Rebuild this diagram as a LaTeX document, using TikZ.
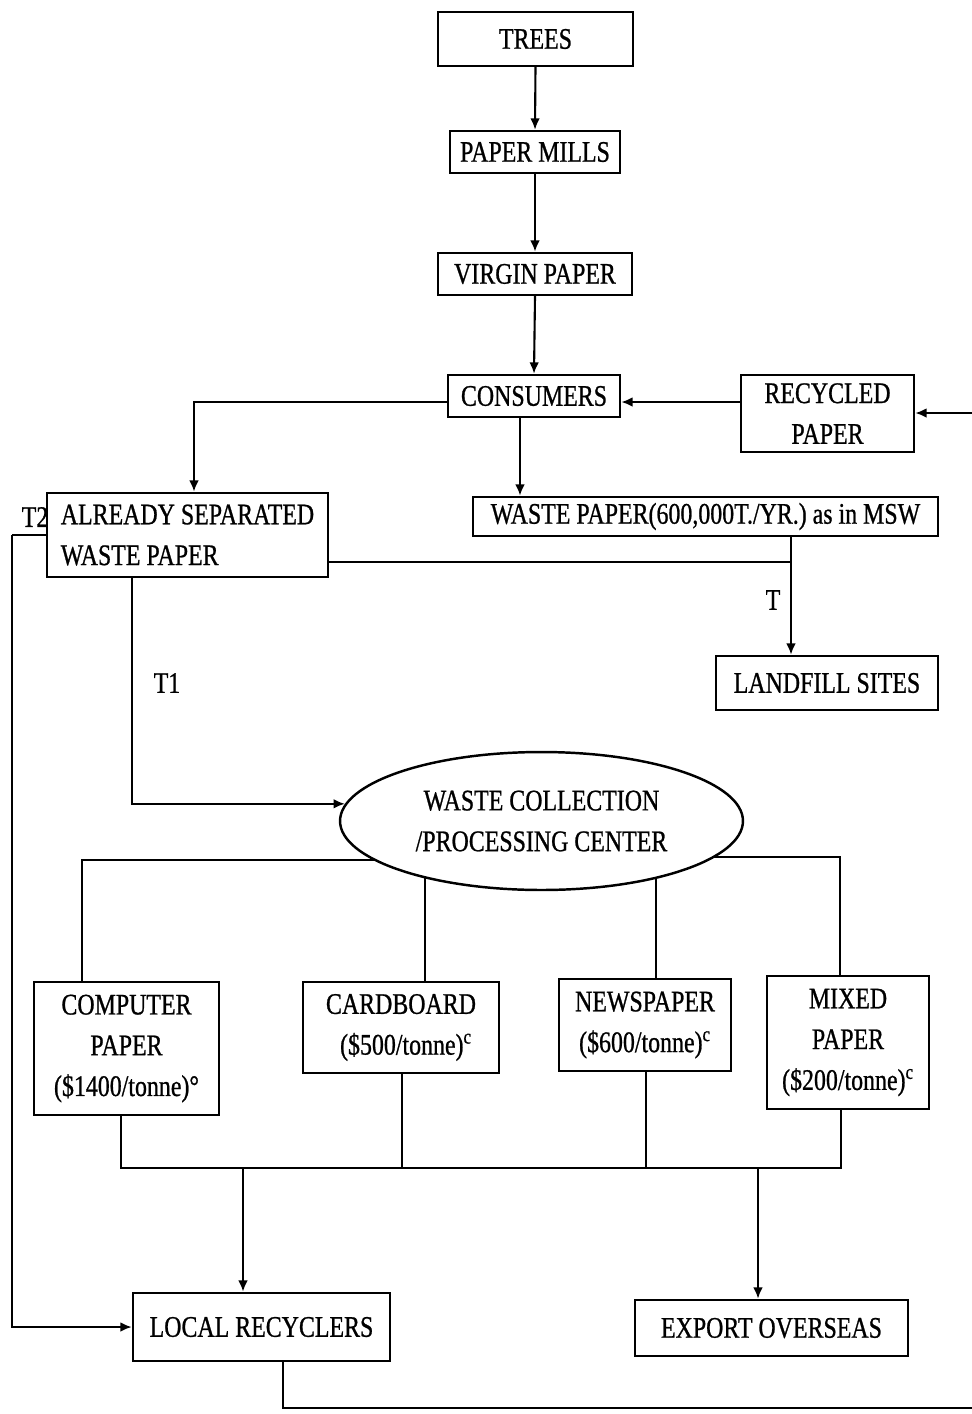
\documentclass[tikz,border=0pt]{standalone}
\usepackage{fontspec}
\setmainfont{Liberation Serif}[FakeStretch=0.8,FakeBold=0.8]
\usetikzlibrary{arrows.meta,shapes.geometric,backgrounds,calc}
\begin{document}
\begin{tikzpicture}[x=0.02cm,y=-0.02cm,
  every node/.style={font=\fontsize{17}{23.2}\selectfont},
  box/.style={draw,line width=1.4pt,inner sep=0pt,align=center},
  conn/.style={line width=1.2pt},
  arr/.style={conn,-{Latex[length=6.5pt,width=5.5pt]}},
  lbl/.style={inner sep=0pt}]
\useasboundingbox (0,0) rectangle (972,1414);
% nodes
\node[box,minimum width=3.9cm,minimum height=1.08cm] (trees) at (535.5,39) {TREES};
\node[box,minimum width=3.4cm,minimum height=0.84cm] (mills) at (535,152) {PAPER MILLS};
\node[box,minimum width=3.88cm,minimum height=0.84cm] (virgin) at (535,274) {VIRGIN PAPER};
\node[box,minimum width=3.44cm,minimum height=0.84cm] (cons) at (534,396) {CONSUMERS};
\node[box,minimum width=3.46cm,minimum height=1.54cm] (rec) at (827.5,413.5) {RECYCLED\\PAPER};
\node[box,minimum width=5.62cm,minimum height=1.68cm,align=left] (asep) at (187.5,535) {ALREADY SEPARATED\\WASTE PAPER};
\node[box,minimum width=9.3cm,minimum height=0.78cm] (waste) at (705.5,516.5) {WASTE PAPER(600,000T./YR.) as in MSW};
\node[box,minimum width=4.44cm,minimum height=1.08cm] (land) at (827,683) {LANDFILL SITES};
\node[box,ellipse,fill=white,minimum width=8.06cm,minimum height=2.76cm] (ell) at (541.5,821) {WASTE COLLECTION\\/PROCESSING CENTER};
\node[box,minimum width=3.7cm,minimum height=2.66cm] (comp) at (126.5,1048.5) {COMPUTER\\PAPER\\(\$1400/tonne)°};
\node[box,minimum width=3.92cm,minimum height=1.82cm] (card) at (401,1027.5) {CARDBOARD\\\,\,(\$500/tonne)\textsuperscript{c}};
\node[box,minimum width=3.44cm,minimum height=1.84cm] (news) at (645,1025) {NEWSPAPER\\(\$600/tonne)\textsuperscript{c}};
\node[box,minimum width=3.24cm,minimum height=2.66cm] (mix) at (848,1042.5) {MIXED\\PAPER\\(\$200/tonne)\textsuperscript{c}};
\node[box,minimum width=5.14cm,minimum height=1.36cm] (local) at (261.5,1327) {LOCAL RECYCLERS};
\node[box,minimum width=5.46cm,minimum height=1.12cm] (export) at (771.5,1328) {EXPORT OVERSEAS};
% labels
\node[lbl] (t2) at (35,517) {T2};
\node[lbl] (t1) at (167,683) {T1};
\node[lbl] (t) at (773,600) {T};
% helper coordinates
\coordinate (y402) at (0,402);
\coordinate (redge) at (972,413);
\coordinate (x194) at (194,0);
\coordinate (x520) at (520,0);
\coordinate (x791) at (791,0);
\coordinate (j) at (791,562);
\coordinate (x132) at (132,0);
\coordinate (lft) at (12,535);
\coordinate (l860) at (0,860);
\coordinate (r857) at (0,857);
\coordinate (x82) at (82,0);
\coordinate (x840) at (840,0);
\coordinate (x425) at (425,0);
\coordinate (x656) at (656,0);
\coordinate (bus) at (0,1168);
\coordinate (x121) at (121,0);
\coordinate (x402) at (402,0);
\coordinate (x646) at (646,0);
\coordinate (x841) at (841,0);
\coordinate (x243) at (243,0);
\coordinate (x758) at (758,0);
\coordinate (x283) at (283,0);
\coordinate (bedge) at (972,1408);
% connectors
\draw[arr] (trees.south) -- (mills.north);
\draw[arr] (mills.south) -- (virgin.north);
\draw[arr] (virgin.south) -- (cons.north);
\draw[arr] (rec.west |- y402) -- (cons.east |- y402);
\draw[arr] (redge) -- (rec.east |- redge);
\draw[arr] (cons.west |- y402) -| (asep.north -| x194);
\draw[arr] (cons.south -| x520) -- (waste.north -| x520);
\draw[arr] (waste.south -| x791) -- (land.north -| x791);
\draw[conn] (asep.east |- j) -- (j);
\draw[arr] (asep.south -| x132) |- (ell.175.6);
\draw[conn] (asep.west) -- (lft);
\draw[arr] (lft) |- (local.west);
\begin{scope}[on background layer]
\draw[conn] (ell.center |- l860) -| (comp.north -| x82);
\draw[conn] (ell.center |- r857) -| (mix.north -| x840);
\draw[conn] (ell.center -| x425) -- (card.north -| x425);
\draw[conn] (ell.center -| x656) -- (news.north -| x656);
\end{scope}
\draw[conn] (comp.south -| x121) -- (x121 |- bus) -- (x841 |- bus) -- (mix.south -| x841);
\draw[conn] (card.south -| x402) -- (x402 |- bus);
\draw[conn] (news.south -| x646) -- (x646 |- bus);
\draw[arr] (x243 |- bus) -- (local.north -| x243);
\draw[arr] (x758 |- bus) -- (export.north -| x758);
\draw[conn] (local.south -| x283) |- (bedge);
\end{tikzpicture}
\end{document}
